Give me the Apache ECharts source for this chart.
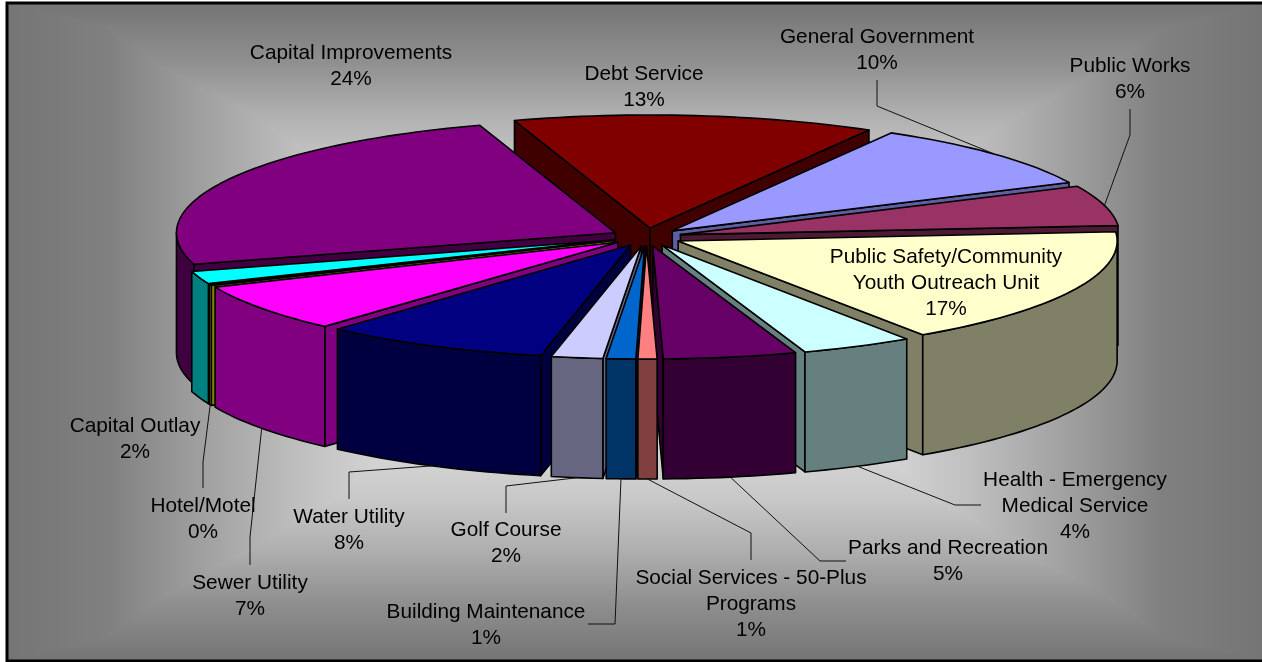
<!DOCTYPE html>
<html>
<head>
<meta charset="utf-8">
<style>html,body{margin:0;padding:0;background:#fff}#chart{width:1262px;height:662px}</style>
<script src="https://cdn.jsdelivr.net/npm/echarts@6/dist/echarts.min.js"></script>
</head>
<body>
<div id="chart"></div>
<script>
// Data
const categories = ['Debt Service','General Government','Public Works','Public Safety/Community\nYouth Outreach Unit','Health - Emergency\nMedical Service','Parks and Recreation','Social Services - 50-Plus\nPrograms','Building Maintenance','Golf Course','Water Utility','Sewer Utility','Hotel/Motel','Capital Outlay','Capital Improvements'];
const shares = [13.3,9.65,5.75,16.88,4.13,4.89,0.7,1.08,1.89,8.35,6.86,0.19,1.81,24.49];
const topColors = ['#800000','#9999FF','#993366','#FFFFCC','#CCFFFF','#660066','#FF8080','#0066CC','#CCCCFF','#000080','#FF00FF','#FFFF00','#00FFFF','#800080'];
const wallColors = ['#400000','#5F5F9F','#4D1A33','#808066','#668080','#330033','#804040','#003366','#666680','#000040','#800080','#808000','#008080','#400040'];

// Presentation settings
const START_ANGLE = -18, EXPLODE = 0.08, WALL = 120 / 113;
const labelLayout = [
  {x:644,y:87},
  {x:877,y:50.5,leader:[[877,106],[877,80]]},
  {x:1130,y:79.5,leader:[[1130,135],[1130,109]]},
  {x:946,y:283},
  {x:1075,y:506,leader:[[955,505],[981,505]]},
  {x:948,y:561,leader:[[820,561],[846,561]]},
  {x:751,y:604,leader:[[751,533],[751,560]]},
  {x:486,y:625,leader:[[615,624],[588,624]]},
  {x:506,y:543,leader:[[506,486],[506,513]]},
  {x:349,y:530,leader:[[349,472],[349,499]]},
  {x:250,y:596,leader:[[250,537],[250,565]]},
  {x:203,y:519,leader:[[203,462],[203,488]]},
  {x:135,y:439},
  {x:351,y:66}
];

const total = shares.reduce((a, b) => a + b, 0);
const rad = d => d * Math.PI / 180;
const spans = [];
shares.reduce((acc, v) => {
  const end = acc + v / total * 360;
  spans.push([acc, end]);
  return end;
}, START_ANGLE);
const midOf = i => (spans[i][0] + spans[i][1]) / 2;
const apexOf = i => [EXPLODE * Math.sin(rad(midOf(i))), EXPLODE * Math.cos(rad(midOf(i)))];
const onRim = (i, a) => { const c = apexOf(i); return [c[0] + Math.sin(rad(a)), c[1] + Math.cos(rad(a))]; };
const arc = (i, a0, a1) => {
  const n = Math.max(2, Math.ceil((a1 - a0) / 1.5)), out = [];
  for (let k = 0; k <= n; k++) out.push(onRim(i, a0 + (a1 - a0) * k / n));
  return out;
};
const paintOrder = categories.map((_, i) => i).sort((p, q) => Math.cos(rad(midOf(q))) - Math.cos(rad(midOf(p))));

function renderSlice(params, api) {
  const i = api.value(2);
  const [a0, a1] = spans[i];
  const toPx = p => api.coord(p);
  const down = p => [p[0], p[1] - WALL];
  const face = (pts, fill) => ({
    type: 'polygon',
    shape: { points: pts.map(toPx) },
    style: { fill, stroke: '#000', lineWidth: 1.6, lineJoin: 'round' }
  });
  const apex = apexOf(i), children = [];
  const radial = edge => { const r = onRim(i, edge); return [apex, r, down(r), down(apex)]; };
  if (Math.sin(rad(a0)) < 0) children.push(face(radial(a0), wallColors[i]));
  if (Math.sin(rad(a1)) > 0) children.push(face(radial(a1), wallColors[i]));
  const f0 = Math.max(a0, 90), f1 = Math.min(a1, 270);
  if (f1 > f0) {
    const rim = arc(i, f0, f1);
    children.push(face(rim.concat(rim.slice().reverse().map(down)), wallColors[i]));
  }
  children.push(face([apex].concat(arc(i, a0, a1)), topColors[i]));
  return { type: 'group', children };
}

function renderLabel(params, api) {
  const i = api.value(2), lay = labelLayout[i], children = [];
  const pct = Math.round(shares[i] / total * 100);
  if (lay.leader) {
    const m = midOf(i), rim = onRim(i, m);
    const front = Math.cos(rad(m)) < 0;
    const start = api.coord(front ? [rim[0], rim[1] - WALL] : rim);
    children.push({
      type: 'polyline',
      shape: { points: [start].concat(lay.leader) },
      style: { fill: 'none', stroke: '#111', lineWidth: 1 }
    });
  }
  children.push({
    type: 'text', x: lay.x, y: lay.y,
    style: {
      text: categories[i] + '\n' + pct + '%',
      font: '20.8px "Liberation Sans", Arial, sans-serif',
      lineHeight: 26, fill: '#000', align: 'center', verticalAlign: 'middle'
    }
  });
  return { type: 'group', children };
}

const horizontalGlow = new echarts.graphic.LinearGradient(8, 0, 1262, 0, [
  { offset: 0, color: '#757575' }, { offset: 0.08, color: '#808080' }, { offset: 0.155, color: '#a0a0a0' },
  { offset: 0.235, color: '#c0c0c0' }, { offset: 0.31, color: '#d8d8d8' }, { offset: 0.5, color: '#e8e8e8' },
  { offset: 0.69, color: '#d8d8d8' }, { offset: 0.765, color: '#c0c0c0' }, { offset: 0.845, color: '#a0a0a0' },
  { offset: 0.92, color: '#808080' }, { offset: 1, color: '#757575' }
], true);
const verticalGlow = new echarts.graphic.LinearGradient(0, 4, 0, 660, [
  { offset: 0, color: '#757575' }, { offset: 0.09, color: '#909090' }, { offset: 0.17, color: '#b0b0b0' },
  { offset: 0.245, color: '#c8c8c8' }, { offset: 0.35, color: '#dcdcdc' }, { offset: 0.5, color: '#e8e8e8' },
  { offset: 0.65, color: '#dcdcdc' }, { offset: 0.755, color: '#c8c8c8' }, { offset: 0.83, color: '#b0b0b0' },
  { offset: 0.91, color: '#909090' }, { offset: 1, color: '#757575' }
], true);

const chart = echarts.init(document.getElementById('chart'), null, { renderer: 'canvas' });
chart.setOption({
  animation: false,
  backgroundColor: '#fff',
  grid: { left: 646.5 - 1.2 * 439, width: 2.4 * 439, top: 237 - 1.2 * 113, height: 3.6 * 113 },
  xAxis: { type: 'value', min: -1.2, max: 1.2, show: false },
  yAxis: { type: 'value', min: -2.4, max: 1.2, show: false },
  graphic: [
    { type: 'rect', shape: { x: 8, y: 4, width: 1254, height: 656 }, style: { fill: horizontalGlow }, silent: true },
    { type: 'rect', shape: { x: 8, y: 4, width: 1254, height: 656 }, style: { fill: verticalGlow, blend: 'darken' }, silent: true },
    { type: 'rect', shape: { x: 7, y: 3, width: 1270, height: 658 }, style: { fill: 'none', stroke: '#000', lineWidth: 3 }, silent: true }
  ],
  series: [
    { type: 'custom', coordinateSystem: 'cartesian2d', silent: true, renderItem: renderSlice, data: paintOrder.map(i => [0, 0, i]), z: 2 },
    { type: 'custom', coordinateSystem: 'cartesian2d', silent: true, renderItem: renderLabel, data: categories.map((_, i) => [0, 0, i]), z: 3 }
  ]
});
</script>
</body>
</html>
